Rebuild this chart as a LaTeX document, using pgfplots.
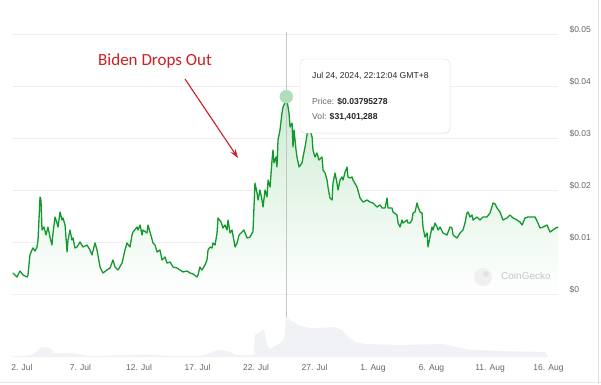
\documentclass[border=0pt]{standalone}
\usepackage{pgfplots}
\pgfplotsset{compat=1.18}
\usepackage{pgfplotstable}
\usepackage{fontspec}
\setmainfont{Liberation Sans}
\newfontfamily\annfont{Carlito}
\usetikzlibrary{arrows.meta,shadows}
\definecolor{lgreen}{RGB}{18,153,46}
\definecolor{fgreen}{RGB}{205,236,211}
\definecolor{mk}{RGB}{176,222,186}
\definecolor{gridc}{RGB}{238,238,238}
\definecolor{tickc}{RGB}{102,102,102}
\definecolor{volc}{RGB}{240,242,245}
\definecolor{annred}{RGB}{204,32,36}

\pgfplotstableread{
d v
1.23 0.00404
1.57 0.00327
1.83 0.00442
2.09 0.00365
2.43 0.00327
2.51 0.00365
2.68 0.0075
2.85 0.00846
2.94 0.00885
3.11 0.00827
3.28 0.00904
3.37 0.01038
3.54 0.01865
3.62 0.01808
3.71 0.01231
3.88 0.01288
4.05 0.01135
4.22 0.01288
4.39 0.01096
4.56 0.00942
4.65 0.01173
4.82 0.01481
4.99 0.01365
5.08 0.01288
5.25 0.01577
5.42 0.01423
5.50 0.01462
5.68 0.01327
5.85 0.00808
5.93 0.01038
6.10 0.01231
6.27 0.01038
6.36 0.01077
6.53 0.00885
6.70 0.00904
6.96 0.01
7.21 0.00904
7.56 0.00942
7.81 0.00846
7.98 0.0075
8.24 0.00981
8.41 0.00846
8.67 0.00519
8.92 0.00404
9.26 0.00462
9.52 0.005
9.78 0.00654
9.95 0.00519
10.21 0.00462
10.55 0.00596
10.80 0.00846
10.97 0.00981
11.23 0.00904
11.40 0.01135
11.49 0.01192
11.83 0.01288
11.91 0.01231
12.09 0.01327
12.26 0.01135
12.34 0.01231
12.68 0.01173
12.77 0.01327
12.94 0.01192
13.20 0.00981
13.37 0.00942
13.54 0.00808
13.79 0.00846
13.97 0.00654
14.22 0.00712
14.39 0.00596
14.65 0.00615
14.91 0.00519
15.25 0.005
15.50 0.00462
15.76 0.00423
16.10 0.00442
16.36 0.00404
16.62 0.00385
16.96 0.00327
17.04 0.00365
17.21 0.00519
17.38 0.00462
17.64 0.00558
17.81 0.00654
17.90 0.00846
18.07 0.00904
18.24 0.00885
18.32 0.00981
18.50 0.00942
18.67 0.01173
18.75 0.01462
19.01 0.01385
19.18 0.01269
19.35 0.01327
19.52 0.01231
19.61 0.01423
19.78 0.01173
19.95 0.01231
20.21 0.00904
20.38 0.00981
20.55 0.01135
20.80 0.01192
20.97 0.01231
21.23 0.01077
21.49 0.01096
21.66 0.01173
21.74 0.01192
21.91 0.02135
22.09 0.01942
22.17 0.01808
22.34 0.02
22.51 0.01808
22.60 0.01673
22.77 0.02
22.94 0.01865
23.03 0.02192
23.20 0.02058
23.37 0.02577
23.45 0.02769
23.54 0.02519
23.71 0.02635
23.79 0.02442
23.88 0.02962
24.05 0.03154
24.22 0.03481
24.31 0.03596
24.48 0.03673
24.59 0.03795
24.74 0.03596
24.82 0.03481
24.91 0.03212
25.08 0.03288
25.16 0.02827
25.25 0.03154
25.42 0.02769
25.50 0.02635
25.68 0.02442
25.93 0.02519
26.02 0.02635
26.19 0.02827
26.36 0.03058
26.44 0.03212
26.62 0.03154
26.79 0.03019
26.87 0.02769
27.04 0.02635
27.21 0.02712
27.38 0.02577
27.64 0.02635
27.73 0.02385
27.90 0.02327
28.07 0.02192
28.15 0.02058
28.32 0.01846
28.50 0.01808
28.58 0.02135
28.75 0.02327
28.92 0.02135
29.01 0.02
29.18 0.02192
29.35 0.0225
29.44 0.02192
29.61 0.02346
29.78 0.02442
29.86 0.0225
30.03 0.02231
30.21 0.0225
30.29 0.02192
30.63 0.02058
30.89 0.01846
31.15 0.01769
31.49 0.01808
31.74 0.01769
32.00 0.0175
32.34 0.01673
32.60 0.01712
32.77 0.01654
33.03 0.01654
33.20 0.01846
33.28 0.01654
33.62 0.01654
33.71 0.01577
34.05 0.01519
34.14 0.01365
34.31 0.01288
34.48 0.01423
34.56 0.01365
34.91 0.01423
34.99 0.01365
35.16 0.01365
35.33 0.01423
35.42 0.01558
35.59 0.01577
35.76 0.0175
35.85 0.01673
36.02 0.01577
36.19 0.01558
36.27 0.01288
36.44 0.01096
36.62 0.01173
36.70 0.00904
36.87 0.01096
37.04 0.01288
37.13 0.01231
37.30 0.01365
37.47 0.01288
37.56 0.01231
37.73 0.01288
37.98 0.01173
38.32 0.01135
38.58 0.01288
38.75 0.01269
38.84 0.01135
39.18 0.01077
39.44 0.01173
39.69 0.01231
39.86 0.01365
40.03 0.01558
40.12 0.01577
40.29 0.01481
40.46 0.01519
40.55 0.01423
40.89 0.01481
41.15 0.01423
41.40 0.01481
41.74 0.01481
42.00 0.01558
42.26 0.0175
42.43 0.01731
42.60 0.01654
42.85 0.01577
43.11 0.01423
43.45 0.01462
43.71 0.01519
43.97 0.01462
44.31 0.01423
44.56 0.01385
44.74 0.01327
44.99 0.01462
45.25 0.01481
45.59 0.01481
45.85 0.01481
46.10 0.01365
46.27 0.01269
46.53 0.01288
46.87 0.01327
47.13 0.01192
47.38 0.01231
47.73 0.01288
47.81 0.01269
}\price

\pgfplotstableread{
d m
1.15 0.8
2.68 1.2
3.11 3.1
3.54 7.1
3.97 7.9
4.39 7.1
4.74 3.1
5.25 2.7
6.10 3.1
6.79 2.4
7.38 1.2
8.67 0.8
9.52 1.2
10.38 1.2
11.66 1.6
12.51 2.0
13.37 1.6
14.65 0.9
16.36 0.8
17.21 0.9
17.81 2.4
18.50 4.7
19.09 5.5
19.78 3.9
20.29 1.6
21.49 1.2
21.83 1.6
21.91 17.3
22.34 19.6
22.68 22.0
22.94 9.4
23.20 6.3
23.62 8.6
24.05 11.0
24.39 14.1
24.56 31.4
24.91 29.0
25.33 26.7
25.76 24.3
26.62 22.8
27.47 22.8
28.75 23.6
29.35 21.2
29.86 15.7
30.46 11.8
31.32 10.2
34.31 9.4
37.73 10.2
38.58 9.4
39.44 7.1
40.29 5.9
42.85 4.7
46.70 3.9
46.96 0
}\volume

\begin{document}
\begin{tikzpicture}
\path[use as bounding box] (0pt,0pt) rectangle (601pt,384pt);
\fill[white] (0pt,0pt) rectangle (601pt,384pt);
% main price axis
\begin{axis}[
  at={(12pt,90pt)}, anchor=south west,
  scale only axis, width=546pt, height=260pt,
  xmin=1.145, xmax=47.81, ymin=0, ymax=0.05,
  clip=false,
  axis line style={draw=none},
  major tick length=0pt,
  xtick=\empty,
  scaled y ticks=false,
  ytick={0,0.01,0.02,0.03,0.04,0.05},
  yticklabels={\$0,\$0.01,\$0.02,\$0.03,\$0.04,\$0.05},
  ytick pos=right, yticklabel pos=right,
  yticklabel style={anchor=west, xshift=8pt, yshift=4pt, font=\fontsize{8.5}{10}\selectfont, text=tickc},
  ymajorgrids, grid style={gridc, line width=0.7pt},
]
\addplot[draw=none, top color=fgreen, bottom color=white] table[x=d,y=v]{\price} \closedcycle;
\draw[gray!45, line width=0.7pt] (axis cs:24.59,0.0504) -- (axis cs:24.59,-0.0121);
\addplot[mk, only marks, mark=*, mark size=6.5pt, mark options={draw=mk, fill=mk}] coordinates {(24.59,0.03795)};
\addplot[lgreen, line width=1.3pt, line join=round] table[x=d,y=v]{\price};
\end{axis}
% volume axis
\begin{axis}[
  at={(12pt,27pt)}, anchor=south west,
  scale only axis, width=546pt, height=47pt,
  xmin=1.145, xmax=47.81, ymin=0, ymax=36.9,
  axis line style={draw=none},
  major tick length=0pt,
  ytick=\empty,
  xtick={2,7,12,17,22,27,32,37,42,47},
  xticklabels={2. Jul,7. Jul,12. Jul,17. Jul,22. Jul,27. Jul,1. Aug,6. Aug,11. Aug,16. Aug},
  xticklabel style={anchor=base, yshift=-13pt, font=\fontsize{8.5}{10}\selectfont, text=tickc},
]
\addplot[draw=none, fill=volc] table[x=d,y=m]{\volume} \closedcycle;
\end{axis}
% tooltip
\draw[gray!25, fill=white, rounded corners=5pt, drop shadow={opacity=0.08, shadow xshift=0.6pt, shadow yshift=-1pt}] (300pt,325pt) rectangle (450pt,251pt);
\node[anchor=west, inner sep=0pt, font=\fontsize{8.6}{10}\selectfont, text={rgb,255:red,40;green,40;blue,40}] at (312pt,308pt) {Jul 24, 2024, 22:12:04 GMT+8};
\node[anchor=west, inner sep=0pt, font=\fontsize{8.6}{10}\selectfont] at (312pt,282pt) {\textcolor{tickc}{Price:} \textcolor{black!85}{\bfseries \$0.03795278}};
\node[anchor=west, inner sep=0pt, font=\fontsize{8.6}{10}\selectfont] at (312pt,267pt) {\textcolor{tickc}{Vol:} \textcolor{black!85}{\bfseries \$31,401,288}};
% annotation
\node[anchor=west, inner sep=0pt, text=annred, font=\annfont\fontsize{17}{20}\selectfont] at (98pt,323pt) {Biden Drops Out};
\draw[annred, line width=1.1pt, -{Stealth[length=9pt,width=6pt]}] (185pt,305pt) -- (238pt,226pt);
% watermark
\fill[gray!12] (483pt,107pt) circle (9pt);
\fill[gray!22] (486pt,110pt) circle (3pt);
\node[anchor=west, inner sep=0pt, text=gray!45, font=\fontsize{10}{12}\selectfont] at (501pt,108pt) {CoinGecko};
% frame lines
\draw[gray!25, line width=0.8pt] (598.5pt,0pt) -- (598.5pt,384pt);
\draw[gray!20, line width=1pt] (0pt,1.5pt) -- (601pt,1.5pt);
\end{tikzpicture}
\end{document}
